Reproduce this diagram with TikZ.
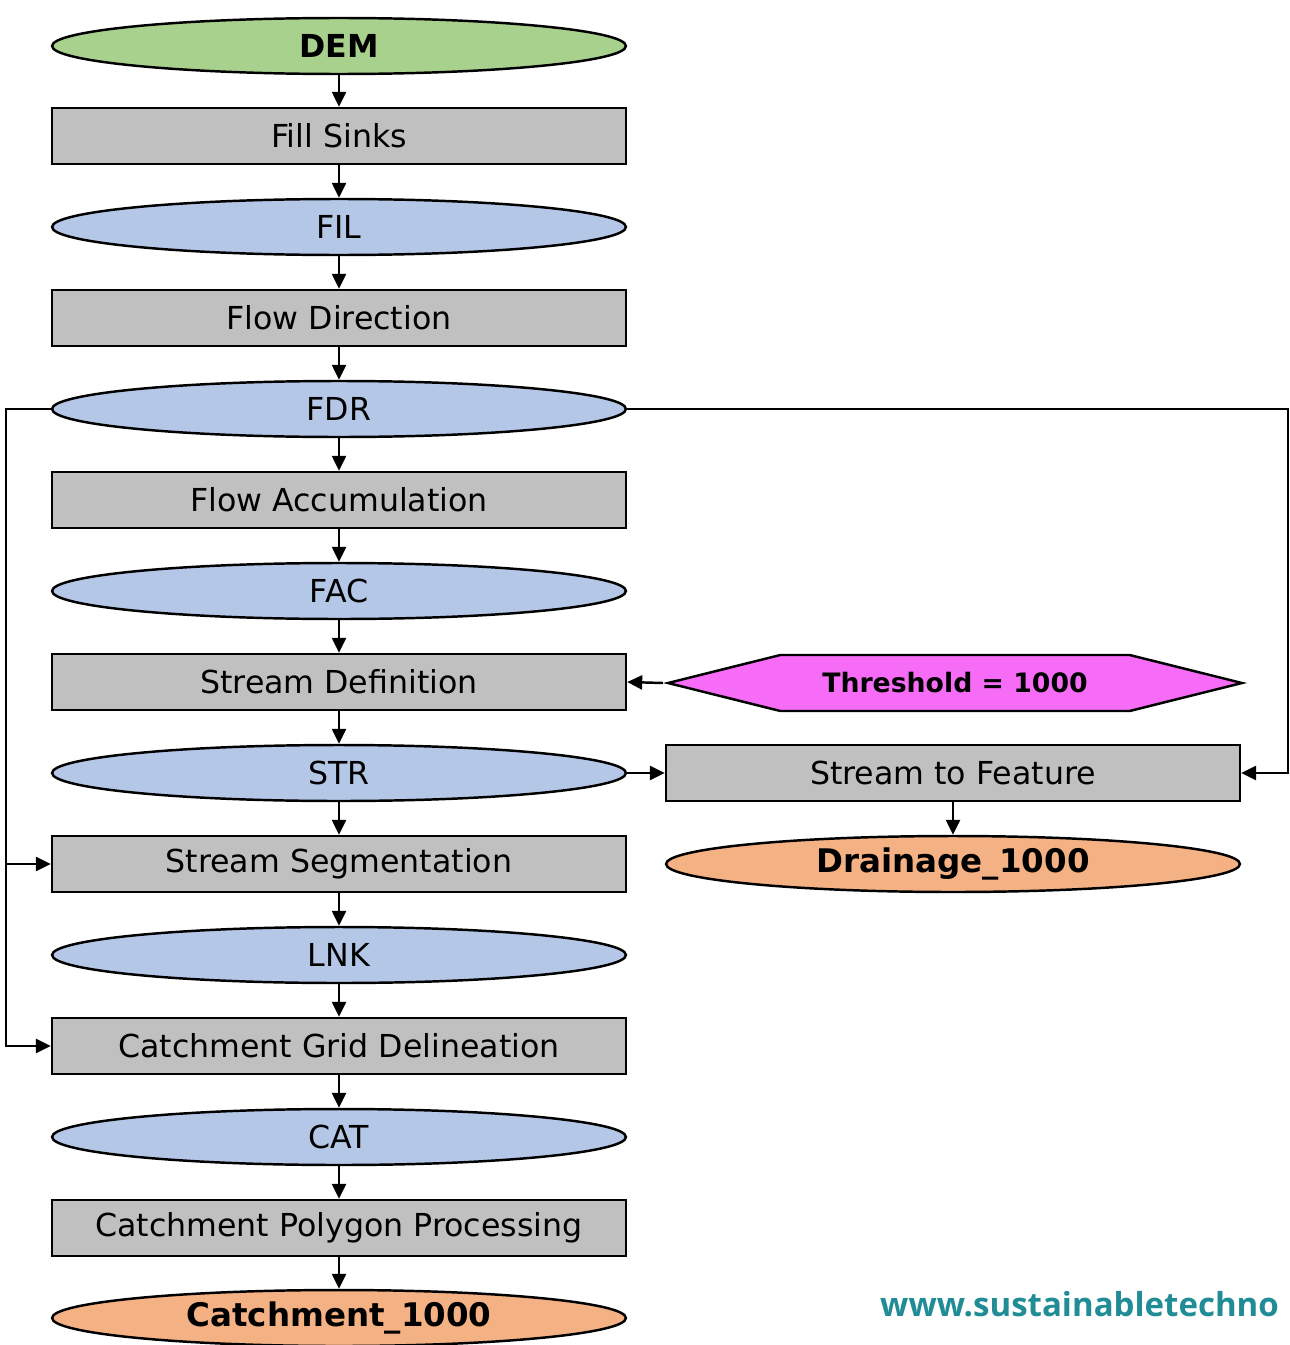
\documentclass[tikz,border=0pt]{standalone}
\usepackage{fontspec}
\setmainfont{DejaVu Sans}
\newfontfamily\webfont{Open Sans}
\usetikzlibrary{arrows.meta,shapes.geometric,shapes.symbols}
\definecolor{toolgray}{RGB}{192,192,192}
\definecolor{gridblue}{RGB}{180,199,231}
\definecolor{demgreen}{RGB}{169,209,142}
\definecolor{outorange}{RGB}{244,177,131}
\definecolor{parmagenta}{RGB}{246,108,246}
\definecolor{webteal}{RGB}{32,140,150}
\begin{document}
\begin{tikzpicture}[
    x=0.02cm, y=-0.02cm,
    >={Triangle[length=0.3cm,width=0.28cm]},
    line width=1.4pt,
    base/.style={draw, line width=1.4pt, minimum width=11.48cm, minimum height=1.12cm, inner sep=0pt, font=\fontsize{18}{21}\selectfont},
    tool/.style={base, rectangle, fill=toolgray},
    grid/.style={base, ellipse, fill=gridblue},
    result/.style={base, ellipse, fill=outorange, font=\fontsize{18.5}{21}\selectfont\bfseries},
    param/.style={base, signal, signal to=west and east, signal pointer angle=28, fill=parmagenta, font=\fontsize{15.2}{18}\selectfont\bfseries}
]
    \useasboundingbox (0,0) rectangle (1289,1345);

    % colonna principale
    \node[base, ellipse, fill=demgreen, font=\fontsize{18}{21}\selectfont\bfseries] (dem) at (339,46) {DEM};
    \node[tool] (fill) at (339,136) {Fill Sinks};
    \node[grid] (fil) at (339,227) {FIL};
    \node[tool] (flowdir) at (339,318) {Flow Direction};
    \node[grid] (fdr) at (339,409) {FDR};
    \node[tool] (flowacc) at (339,500) {Flow Accumulation};
    \node[grid] (fac) at (339,591) {FAC};
    \node[tool] (streamdef) at (339,682) {Stream Definition};
    \node[grid] (str) at (339,773) {STR};
    \node[tool] (streamseg) at (339,864) {Stream Segmentation};
    \node[grid] (lnk) at (339,955) {LNK};
    \node[tool] (catgrid) at (339,1046) {Catchment Grid Delineation};
    \node[grid] (cat) at (339,1137) {CAT};
    \node[tool] (catpoly) at (339,1228) {Catchment Polygon Processing};
    \node[result] (catchment) at (339,1318) {Catchment\_1000};

    % colonna destra
    \node[param] (threshold) at (955,683) {Threshold = 1000};
    \node[tool] (streamfeat) at (953,773) {Stream to Feature};
    \node[result] (drainage) at (953,864) {Drainage\_1000};

    % sito
    \node[anchor=base west, inner sep=0pt, text=webteal, font=\webfont\fontsize{18.8}{22}\selectfont\bfseries] (web) at (879,1316) {www.sustainabletechno};

    % frecce verticali
    \foreach \a/\b in {dem/fill, fill/fil, fil/flowdir, flowdir/fdr, fdr/flowacc, flowacc/fac, fac/streamdef, streamdef/str, str/streamseg, streamseg/lnk, lnk/catgrid, catgrid/cat, cat/catpoly, catpoly/catchment, streamfeat/drainage}
        \draw[->] (\a) -- (\b);

    % frecce laterali
    \draw[->] (threshold.west) -- (streamdef.east);
    \draw[->] (str.east) -- (streamfeat.west);
    \draw[->] (fdr.west) -| (6,600) |- (streamseg.west);
    \draw[->] (6,864) |- (catgrid.west);
    \draw[->] (fdr.east) -| (1288,600) |- (streamfeat.east);
\end{tikzpicture}
\end{document}
